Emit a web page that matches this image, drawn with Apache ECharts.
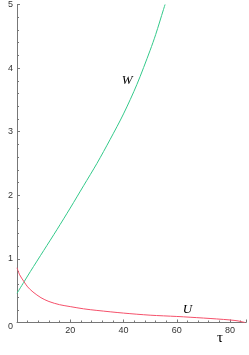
<!DOCTYPE html>
<html><head><meta charset="utf-8">
<script src="https://cdn.jsdelivr.net/npm/echarts@6/dist/echarts.min.js"></script>
<style>html,body{margin:0;padding:0;background:#fff}#c{width:249px;height:355px}</style>
</head><body><div id="c"></div>
<script>
var tauW = [0, 2.5, 5, 10, 15, 20, 25, 30, 35, 40, 45, 50, 52.1, 55, 55.6];
var valW = [0.46, 0.63, 0.8, 1.13, 1.46, 1.8, 2.15, 2.5, 2.88, 3.28, 3.74, 4.28, 4.53, 4.92, 5.0];
var tauU = [0, 1, 2.5, 4, 6, 9, 12, 16, 20, 25, 30, 40, 50, 60, 65, 70, 75, 80, 83, 85.6];
var valU = [0.86, 0.75, 0.65, 0.56, 0.48, 0.39, 0.33, 0.28, 0.25, 0.215, 0.19, 0.148, 0.115, 0.095, 0.083, 0.07, 0.056, 0.04, 0.025, 0.0];
var xTicks = [20, 40, 60, 80];
var yTicks = [0, 1, 2, 3, 4, 5];
var labelW = {name: 'W', tau: 41.4, val: 3.8};
var labelU = {name: 'U', tau: 64, val: 0.2};
var labelX = {name: 'τ', tau: 76.2, val: -0.25};

function pairs(a, b) { return a.map(function (t, i) { return [t, b[i]]; }); }

var chart = echarts.init(document.getElementById('c'), null, {renderer: 'canvas'});
chart.setOption({
  animation: false,
  grid: {left: 17, top: 3.5, width: 231.2, height: 319},
  xAxis: {
    type: 'value', min: 0, max: 86, interval: 20,
    axisLine: {lineStyle: {color: '#777', width: 1}},
    axisTick: {show: true, inside: true, length: 3, lineStyle: {color: '#777'}},
    minorTick: {show: true, splitNumber: 5, length: 2, lineStyle: {color: '#777'}},
    splitLine: {show: false},
    axisLabel: {
      fontFamily: 'Liberation Sans', fontSize: 9, color: '#333', margin: 4,
      formatter: function (v) { return xTicks.indexOf(v) >= 0 ? String(v) : ''; }
    }
  },
  yAxis: {
    type: 'value', min: 0, max: 5, interval: 1,
    axisLine: {show: true, lineStyle: {color: '#777', width: 1}},
    axisTick: {show: true, inside: true, length: 3, lineStyle: {color: '#777'}},
    minorTick: {show: true, splitNumber: 5, length: 2, lineStyle: {color: '#777'}},
    splitLine: {show: false},
    axisLabel: {
      fontFamily: 'Liberation Sans', fontSize: 9, color: '#333', margin: 4,
      formatter: function (v) { return yTicks.indexOf(v) >= 0 ? (v === 0 ? '{z|0}' : String(v)) : ''; },
      rich: {z: {fontFamily: 'Liberation Sans', fontSize: 9, color: '#333', padding: [8, 0, 0, 0]}}
    }
  },
  series: [
    {type: 'line', data: pairs(tauW, valW), smooth: 0.3, symbol: 'none',
     lineStyle: {color: '#33c98a', width: 1}, clip: false},
    {type: 'line', data: pairs(tauU, valU), smooth: 0.3, symbol: 'none',
     lineStyle: {color: '#f5506a', width: 1}, clip: false}
  ]
});
function txt(l, italic, size) {
  var p = chart.convertToPixel({gridIndex: 0}, [l.tau, l.val]);
  return {type: 'text', x: p[0], y: p[1],
    style: {text: l.name, font: (italic ? 'italic ' : '') + size + 'px "Liberation Serif"', fill: '#000',
      textAlign: 'center', textVerticalAlign: 'middle'}};
}
chart.setOption({graphic: [txt(labelW, true, 13), txt(labelU, true, 13), txt(labelX, false, 15)]});
</script></body></html>
